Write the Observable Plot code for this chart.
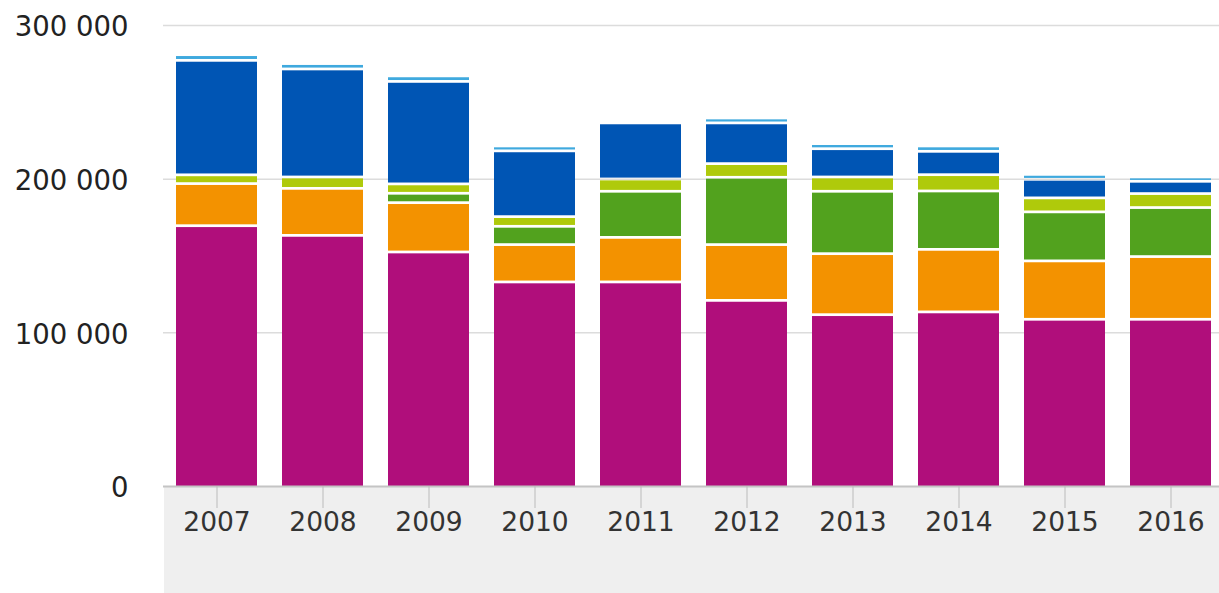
<!DOCTYPE html>
<html><head><meta charset="utf-8">
<script src="https://cdn.jsdelivr.net/npm/d3@7"></script>
<script src="https://cdn.jsdelivr.net/npm/@observablehq/plot@0.6"></script>
<style>
html,body{margin:0;padding:0;background:#fff;overflow:hidden;}
#chart svg{display:block;}
</style></head><body><div id="chart"></div>
<script>
const years = ["2007","2008","2009","2010","2011","2012","2013","2014","2015","2016"];
const seriesNames = ["Serie 1","Serie 2","Serie 3","Serie 4","Serie 5","Serie 6"];
const magenta = [168500,162200,151400,131900,131900,119900,110600,112400,107600,107600];
const orange  = [27400,30600,32100,24300,29000,36300,39700,40700,38000,40800];
const green   = [0,0,6100,11900,30000,43800,40600,38000,31900,31900];
const yellow  = [5700,7400,6100,6300,8000,8900,9300,10600,9100,9100];
const blue    = [74500,70300,66700,42800,36500,26500,18400,15200,12100,8000];
const cyan    = [3700,3500,3600,3200,0,3200,3300,3500,3200,2800];
const yTicks = [0,100000,200000,300000];
const colors = ["#b00e7b","#f39200","#52a21e","#afca0b","#0055b4","#3fa9de"];

const seriesValues = [magenta, orange, green, yellow, blue, cyan];
const rows = [];
years.forEach((yr, i) => {
  let acc = 0;
  seriesValues.forEach((vals, s) => {
    const v = vals[i];
    if (v > 0) rows.push({year: yr, series: seriesNames[s], y1: acc, y2: acc + v, bottom: s === 0});
    acc += v;
  });
});

const fmt = d => d3.format(",")(d).replace(/,/g, " ");

const chart = Plot.plot({
  width: 1219, height: 593,
  marginTop: 25, marginBottom: 107, marginLeft: 163, marginRight: 0,
  style: {
    fontFamily: "'DejaVu Sans', Verdana, sans-serif",
    color: "#333",
    background: "linear-gradient(#efefef,#efefef) no-repeat 164px 487px / 1060px 106px, #ffffff",
    overflow: "hidden"
  },
  x: {domain: years, range: [163.7, 1223.7], paddingInner: 0.235, paddingOuter: 0.1175, label: null},
  y: {domain: [0, 300000], label: null},
  color: {domain: seriesNames, range: colors},
  marks: [
    Plot.gridY(yTicks.slice(1), {stroke: "#dcdcdc", strokeOpacity: 1, strokeWidth: 1.5}),
    Plot.barY(rows.filter(d => d.bottom), {x: "year", y1: "y1", y2: "y2", fill: "series"}),
    Plot.barY(rows.filter(d => !d.bottom), {x: "year", y1: "y1", y2: "y2", fill: "series", insetBottom: 2.75}),
    Plot.ruleY([0], {stroke: "#c4c4c4", strokeWidth: 2}),
    Plot.axisY(yTicks, {tickSize: 0, tickPadding: 35, tickFormat: fmt, fontSize: 27.5, fill: "#222", dy: 2}),
    Plot.axisX({tickSize: 22, tickPadding: 4, stroke: "#bbb", strokeOpacity: 1, fontSize: 26.5, fill: "#333"})
  ]
});
document.getElementById("chart").appendChild(chart);
</script>
</body></html>
